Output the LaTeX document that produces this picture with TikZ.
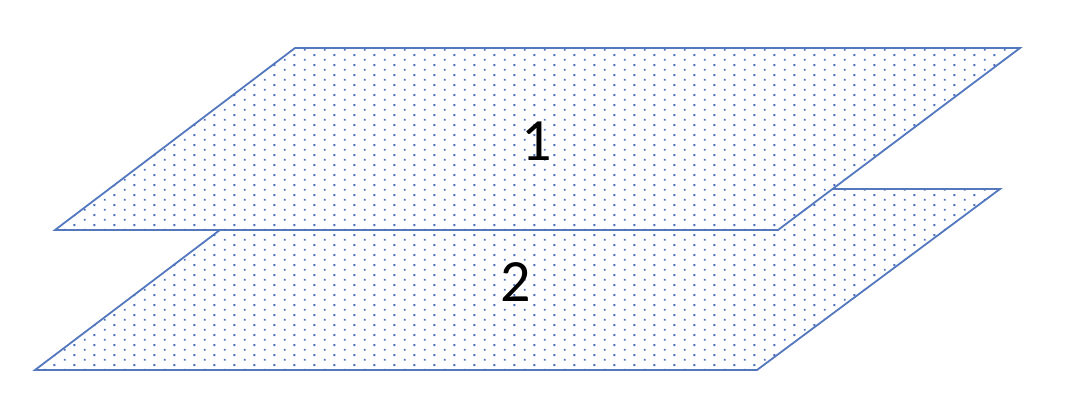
\documentclass[tikz,border=0pt]{standalone}
\usepackage{fontspec}
\setmainfont{Carlito}
\usetikzlibrary{patterns}
\definecolor{edgeblue}{RGB}{84,120,190}
\definecolor{dotblue}{RGB}{75,112,190}
\pgfdeclarepatternformonly{planedots}{\pgfpointorigin}{\pgfpoint{20pt}{10pt}}{\pgfpoint{20pt}{10pt}}{%
  \pgfpathrectangle{\pgfpoint{4pt}{1.5pt}}{\pgfpoint{2pt}{2pt}}%
  \pgfpathrectangle{\pgfpoint{14pt}{6.5pt}}{\pgfpoint{2pt}{2pt}}%
  \pgfusepath{fill}}
\tikzset{
  plane/.style={draw=edgeblue, line width=1.8pt, line join=miter, fill=white,
    postaction={pattern=planedots, pattern color=dotblue}},
  label/.style={font=\fontsize{60}{60}\selectfont, text=black, inner sep=0pt}
}
\begin{document}
\begin{tikzpicture}[x=1pt,y=-1pt]
\useasboundingbox (0,0) rectangle (1068,412);
% lower plane
\coordinate (b1) at (274,189);
\coordinate (b2) at (1000,189);
\coordinate (b3) at (757,370);
\coordinate (b4) at (35,370);
\path[plane] (b1) -- (b2) -- (b3) -- (b4) -- cycle;
% upper plane
\coordinate (a1) at (295,48);
\coordinate (a2) at (1020,48);
\coordinate (a3) at (778,230);
\coordinate (a4) at (55,230);
\path[plane] (a1) -- (a2) -- (a3) -- (a4) -- cycle;
\node[label] (one) at (537,141) {1};
\node[label] (two) at (516,282) {2};
\end{tikzpicture}
\end{document}
